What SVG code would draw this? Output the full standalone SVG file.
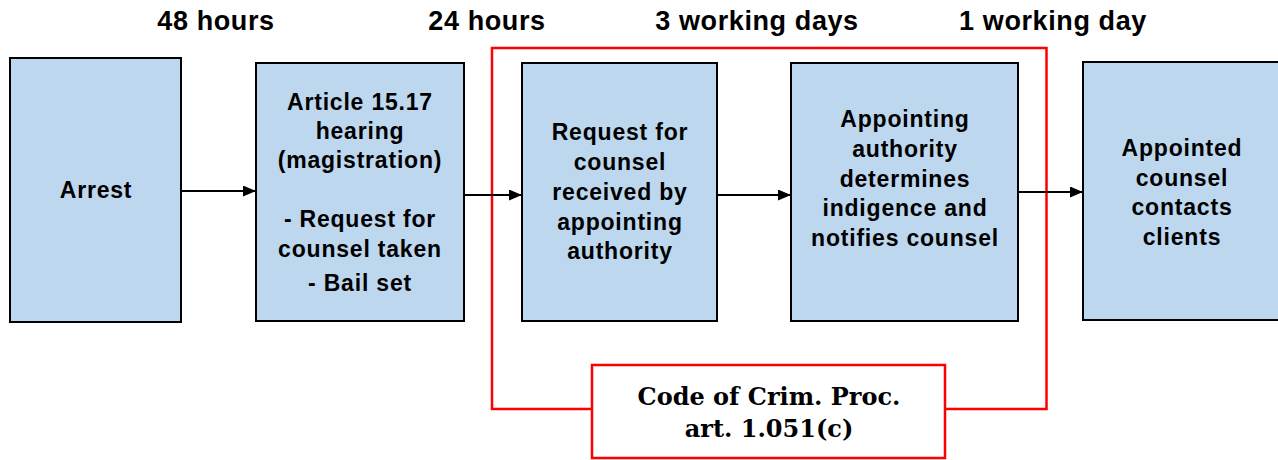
<svg xmlns="http://www.w3.org/2000/svg" width="1278" height="460" viewBox="0 0 1278 460">
<defs>
<marker id="ah" markerWidth="13" markerHeight="11" refX="13" refY="5.5" orient="auto" markerUnits="userSpaceOnUse">
<path d="M0,0 L13,5.5 L0,11 Z" fill="#000"/>
</marker>
<style>
.box{fill:#BDD7EE;stroke:#000;stroke-width:2}
.t{font-family:"Liberation Sans",Arial,sans-serif;font-weight:bold;font-size:23px;letter-spacing:0.8px;fill:#000;text-anchor:middle}
.h{font-family:"Liberation Sans",Arial,sans-serif;font-weight:bold;font-size:27px;letter-spacing:0.6px;fill:#000;text-anchor:middle}
.c{font-family:"DejaVu Serif","Liberation Serif",serif;font-weight:bold;font-size:24px;fill:#000;text-anchor:middle}
.red{fill:none;stroke:#FF0000;stroke-width:2.5}
.conn{stroke:#000;stroke-width:2;fill:none}
</style>
</defs>
<rect width="1278" height="460" fill="#fff"/>
<g id="labels">
<text class="h" x="216" y="30">48 hours</text>
<text class="h" x="487" y="30">24 hours</text>
<text class="h" x="757" y="30">3 working days</text>
<text class="h" x="1053" y="30">1 working day</text>
</g>
<g id="bracket">
<path class="red" d="M592,409 L492,409 L492,48 L1046.5,48 L1046.5,409 L945,409"/>
</g>
<g id="connectors">
<line class="conn" x1="181" y1="191" x2="256" y2="191" marker-end="url(#ah)"/>
<line class="conn" x1="464" y1="195" x2="522" y2="195" marker-end="url(#ah)"/>
<line class="conn" x1="717" y1="195" x2="791" y2="195" marker-end="url(#ah)"/>
<line class="conn" x1="1018" y1="192" x2="1083" y2="192" marker-end="url(#ah)"/>
</g>
<g id="arrest">
<rect class="box" x="10" y="58" width="171" height="264"/>
<text class="t" x="96" y="198">Arrest</text>
</g>
<g id="hearing">
<rect class="box" x="256" y="63" width="208" height="258"/>
<text class="t" x="360" y="110">Article 15.17</text>
<text class="t" x="360" y="139">hearing</text>
<text class="t" x="360" y="168">(magistration)</text>
<text class="t" x="360" y="227">- Request for</text>
<text class="t" x="360" y="257">counsel taken</text>
<text class="t" x="360" y="291">- Bail set</text>
</g>
<g id="request">
<rect class="box" x="522" y="63" width="195" height="258"/>
<text class="t" x="620" y="140">Request for</text>
<text class="t" x="620" y="170">counsel</text>
<text class="t" x="620" y="200">received by</text>
<text class="t" x="620" y="230">appointing</text>
<text class="t" x="620" y="259">authority</text>
</g>
<g id="determines">
<rect class="box" x="791" y="63" width="227" height="258"/>
<text class="t" x="905" y="127">Appointing</text>
<text class="t" x="905" y="157">authority</text>
<text class="t" x="905" y="187">determines</text>
<text class="t" x="905" y="216">indigence and</text>
<text class="t" x="905" y="246">notifies counsel</text>
</g>
<g id="contacts">
<rect class="box" x="1083" y="62" width="210" height="258"/>
<text class="t" x="1182" y="156">Appointed</text>
<text class="t" x="1182" y="186">counsel</text>
<text class="t" x="1182" y="215">contacts</text>
<text class="t" x="1182" y="245">clients</text>
</g>
<g id="code">
<rect x="592" y="365" width="353" height="93" fill="#fff" stroke="#FF0000" stroke-width="2.5"/>
<text class="c" x="769" y="405">Code of Crim. Proc.</text>
<text class="c" x="769" y="437">art. 1.051(c)</text>
</g>
</svg>
